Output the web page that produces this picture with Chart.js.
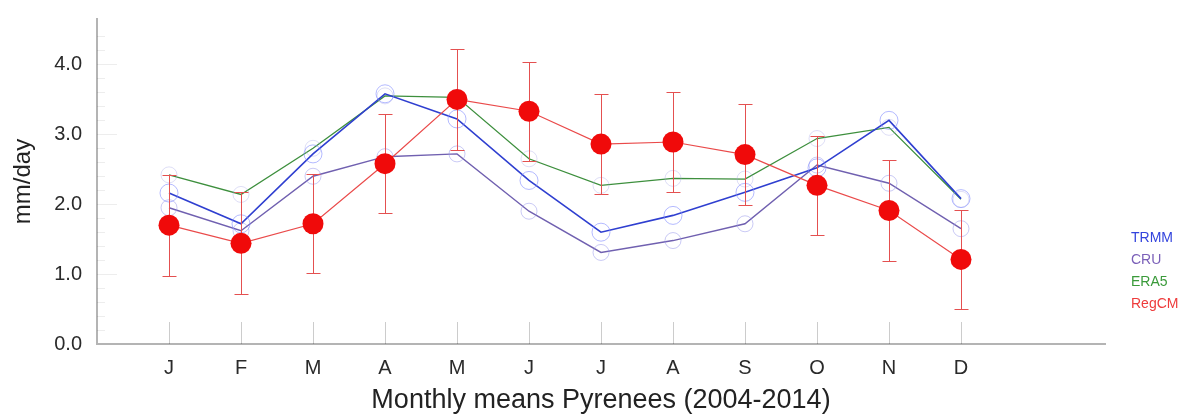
<!DOCTYPE html>
<html lang="en">
<head>
  <meta charset="UTF-8">
  <title>Monthly means Pyrenees (2004-2014)</title>
  <script src="https://cdn.jsdelivr.net/npm/chart.js"></script>
  <style>
    body { margin: 0; background: #fff; }
    canvas { display: block; }
  </style>
</head>
<body>
  <canvas id="myChart" width="1187" height="420"></canvas>

  <script>
    // Data (mm/day)
    var months = ['J', 'F', 'M', 'A', 'M', 'J', 'J', 'A', 'S', 'O', 'N', 'D'];
    var trmm  = [2.16, 1.72, 2.72, 3.58, 3.22, 2.34, 1.60, 1.84, 2.17, 2.52, 3.20, 2.08];
    var cru   = [1.95, 1.62, 2.40, 2.68, 2.72, 1.90, 1.31, 1.48, 1.72, 2.56, 2.30, 1.65];
    var era5  = [2.42, 2.14, 2.80, 3.55, 3.53, 2.65, 2.27, 2.37, 2.36, 2.94, 3.10, 2.07];
    var regcm = [1.70, 1.44, 1.72, 2.58, 3.50, 3.33, 2.86, 2.89, 2.71, 2.27, 1.91, 1.21];
    var regcmStd = [0.72, 0.73, 0.71, 0.71, 0.72, 0.71, 0.72, 0.72, 0.72, 0.71, 0.72, 0.71];
    var yTicks = [0, 1, 2, 3, 4];

    var legendItems = [
      { text: 'TRMM',  color: '#3344dd' },
      { text: 'CRU',   color: '#7a5fb8' },
      { text: 'ERA5',  color: '#3a9a3a' },
      { text: 'RegCM', color: '#ee3b3b' }
    ];

    var FONT = '"Liberation Sans", Arial, Helvetica, sans-serif';

    function toPoints(arr) {
      return arr.map(function (v, i) { return { x: i + 1, y: v }; });
    }

    // error bars of RegCM, drawn just before the red dots
    var errorBars = {
      id: 'errorBars',
      beforeDatasetDraw: function (chart, args) {
        if (args.index !== 3) return;
        var ctx = chart.ctx, xs = chart.scales.x, ys = chart.scales.y;
        ctx.save();
        ctx.strokeStyle = 'rgb(228,80,80)';
        ctx.lineWidth = 1;
        regcm.forEach(function (v, i) {
          var x = Math.round(xs.getPixelForValue(i + 1)) + 0.5;
          var yt = Math.round(ys.getPixelForValue(v + regcmStd[i])) + 0.5;
          var yb = Math.round(ys.getPixelForValue(v - regcmStd[i])) + 0.5;
          ctx.beginPath();
          ctx.moveTo(x, yt); ctx.lineTo(x, yb);
          ctx.moveTo(x - 7, yt); ctx.lineTo(x + 7, yt);
          ctx.moveTo(x - 7, yb); ctx.lineTo(x + 7, yb);
          ctx.stroke();
        });
        ctx.restore();
      }
    };

    // inward tick marks like the original plot
    var innerTicks = {
      id: 'innerTicks',
      beforeDatasetsDraw: function (chart) {
        var ctx = chart.ctx, xs = chart.scales.x, ys = chart.scales.y, a = chart.chartArea;
        ctx.save();
        ctx.strokeStyle = 'rgba(0,0,0,0.2)';
        ctx.lineWidth = 1;
        months.forEach(function (m, i) {
          var x = Math.round(xs.getPixelForValue(i + 1)) + 0.5;
          ctx.beginPath();
          ctx.moveTo(x, a.bottom); ctx.lineTo(x, a.bottom - 22);
          ctx.stroke();
        });
        ctx.strokeStyle = 'rgba(0,0,0,0.07)';
        for (var v = 0.2; v < 4.6; v += 0.2) {
          var y = Math.round(ys.getPixelForValue(v)) + 0.5;
          var major = Math.abs(v - Math.round(v)) < 0.01;
          ctx.beginPath();
          ctx.moveTo(a.left, y); ctx.lineTo(a.left + (major ? 20 : 8), y);
          ctx.stroke();
        }
        ctx.restore();
      }
    };

    var sideLegend = {
      id: 'sideLegend',
      afterDraw: function (chart) {
        var ctx = chart.ctx;
        ctx.save();
        ctx.font = '14px ' + FONT;
        ctx.textBaseline = 'middle';
        legendItems.forEach(function (it, i) {
          ctx.fillStyle = it.color;
          ctx.fillText(it.text, 1131, 238 + i * 22);
        });
        ctx.restore();
      }
    };

    var ctx = document.getElementById('myChart').getContext('2d');

    var myChart = new Chart(ctx, {
      type: 'line',
      data: {
        datasets: [
          {
            label: 'TRMM',
            data: toPoints(trmm),
            borderColor: '#2f3fd0',
            borderWidth: 1.6,
            pointRadius: 9,
            pointBorderWidth: 1,
            pointBorderColor: 'rgba(130,140,255,0.6)',
            pointBackgroundColor: 'rgba(0,0,0,0)',
            order: 2
          },
          {
            label: 'CRU',
            data: toPoints(cru),
            borderColor: '#7060b0',
            borderWidth: 1.4,
            pointRadius: 8,
            pointBorderWidth: 1,
            pointBorderColor: 'rgba(150,150,235,0.5)',
            pointBackgroundColor: 'rgba(0,0,0,0)',
            order: 3
          },
          {
            label: 'ERA5',
            data: toPoints(era5),
            borderColor: '#3d8f3d',
            borderWidth: 1.3,
            pointRadius: 8,
            pointBorderWidth: 1,
            pointBorderColor: 'rgba(160,160,230,0.35)',
            pointBackgroundColor: 'rgba(0,0,0,0)',
            order: 4
          },
          {
            label: 'RegCM',
            data: toPoints(regcm),
            borderColor: '#ea4a4a',
            borderWidth: 1.2,
            pointRadius: 10.5,
            pointBorderWidth: 0,
            pointBackgroundColor: '#f00a0a',
            order: 1
          }
        ]
      },
      options: {
        responsive: false,
        animation: false,
        layout: { padding: { left: 0, right: 82, top: 19, bottom: 0 } },
        plugins: {
          legend: { display: false },
          tooltip: { enabled: false }
        },
        scales: {
          x: {
            type: 'linear',
            min: 0,
            max: 14,
            afterFit: function (scale) {
              scale.height = 76;
              scale.paddingLeft = 0;
              scale.paddingRight = 0;
            },
            afterBuildTicks: function (scale) {
              scale.ticks = months.map(function (m, i) { return { value: i + 1 }; });
            },
            grid: { display: false, drawTicks: false },
            border: { display: true, color: '#b4b4b4', width: 2 },
            ticks: {
              padding: 12,
              color: '#2a2a2a',
              font: { family: FONT, size: 20 },
              maxRotation: 0,
              autoSkip: false,
              callback: function (value) { return months[value - 1]; }
            },
            title: {
              display: true,
              text: 'Monthly means Pyrenees (2004-2014)',
              color: '#222',
              font: { family: FONT, size: 27 },
              padding: { top: 0, bottom: 3 }
            }
          },
          y: {
            min: 0,
            max: 4.65,
            afterFit: function (scale) {
              scale.width = 97;
              scale.paddingTop = 0;
              scale.paddingBottom = 0;
            },
            afterBuildTicks: function (scale) {
              scale.ticks = yTicks.map(function (v) { return { value: v }; });
            },
            grid: { display: false, drawTicks: false },
            border: { display: true, color: '#b4b4b4', width: 2 },
            ticks: {
              padding: 15,
              color: '#2a2a2a',
              font: { family: FONT, size: 20 },
              callback: function (value) { return value.toFixed(1); }
            },
            title: {
              display: true,
              text: 'mm/day',
              color: '#222',
              font: { family: FONT, size: 24 },
              padding: { top: 9, bottom: 0 }
            }
          }
        }
      },
      plugins: [innerTicks, errorBars, sideLegend]
    });
  </script>
</body>
</html>
